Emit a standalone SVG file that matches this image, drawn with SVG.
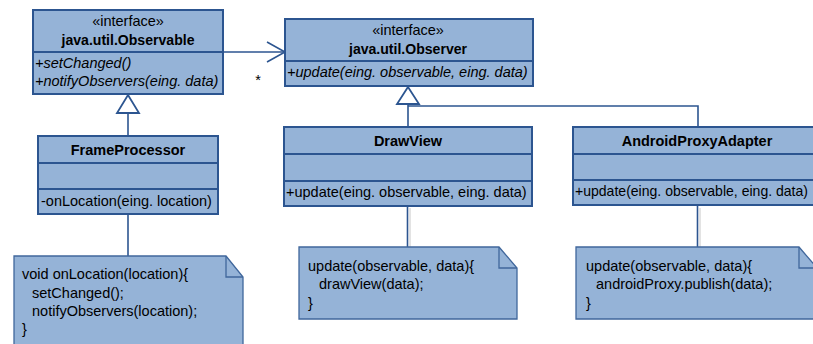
<svg xmlns="http://www.w3.org/2000/svg" width="813" height="344" viewBox="0 0 813 344">
  <style>
    .box { fill: #95b3d7; stroke: #2c5590; stroke-width: 2; }
    .div { stroke: #2c5590; stroke-width: 2; fill: none; }
    .note { fill: #95b3d7; stroke: #40679c; stroke-width: 1.3; }
    .fold { fill: none; stroke: #40679c; stroke-width: 1.3; }
    .edge { fill: none; stroke: #2c5590; stroke-width: 1.6; }
    .shadow { fill: none; stroke: #c8c8c8; stroke-width: 1; }
    .tri { fill: #ffffff; stroke: #2c5590; stroke-width: 1.8; }
    text { font-family: "Liberation Sans", Arial, sans-serif; font-size: 14.5px; fill: #000; }
    .c { text-anchor: middle; }
    .b { font-weight: bold; }
    .i { font-style: italic; }
  </style>

  <!-- connectors -->
  <g id="connectors">
    <!-- association Observable -> Observer -->
    <path class="edge" d="M223,52 H284"/>
    <path class="edge" d="M267,42 L285,52 L267,62"/>
    <text x="258" y="85" class="c">*</text>
    <!-- FrameProcessor realizes Observable -->
    <path class="edge" d="M128,113 V136"/>
    <polygon class="tri" points="128,95 139,113 117,113"/>
    <!-- DrawView / AndroidProxyAdapter realize Observer -->
    <path class="edge" d="M408,104 V127 M408,106 H698 V127"/>
    <polygon class="tri" points="408,87 419,104 397,104"/>
    <!-- note anchors -->
    <path class="edge" d="M128,214 V256"/>
    <path class="shadow" d="M410,208 V248"/>
    <path class="edge" d="M407.5,206 V247"/>
    <path class="shadow" d="M700,208 V248"/>
    <path class="edge" d="M697.5,205 V247"/>
  </g>

  <g id="observable">
    <rect class="box" x="33" y="10" width="190" height="84"/>
    <path class="div" d="M33,52 H223"/>
    <text x="128" y="26" class="c">«interface»</text>
    <text x="128" y="45" class="c b" textLength="133" lengthAdjust="spacingAndGlyphs">java.util.Observable</text>
    <text x="35" y="68" class="i">+setChanged()</text>
    <text x="35" y="86" class="i">+notifyObservers(eing. data)</text>
  </g>

  <g id="observer">
    <rect class="box" x="285" y="19" width="248" height="67"/>
    <path class="div" d="M285,61 H533"/>
    <text x="408" y="35" class="c">«interface»</text>
    <text x="408" y="54" class="c b" textLength="118" lengthAdjust="spacingAndGlyphs">java.util.Observer</text>
    <text x="287" y="77" class="i">+update(eing. observable, eing. data)</text>
  </g>

  <g id="frameprocessor">
    <rect class="box" x="38" y="136" width="180" height="78"/>
    <path class="div" d="M38,163 H218 M38,189 H218"/>
    <text x="128" y="155" class="c b">FrameProcessor</text>
    <text x="41" y="206">-onLocation(eing. location)</text>
  </g>

  <g id="drawview">
    <rect class="box" x="284" y="127" width="248" height="79"/>
    <path class="div" d="M284,154 H532 M284,181 H532"/>
    <text x="408" y="146" class="c b">DrawView</text>
    <text x="286" y="197">+update(eing. observable, eing. data)</text>
  </g>

  <g id="androidproxyadapter">
    <rect class="box" x="573" y="127" width="244" height="78"/>
    <path class="div" d="M573,154 H817 M573,180 H817"/>
    <text x="697" y="146" class="c b">AndroidProxyAdapter</text>
    <text x="575" y="196" textLength="233" lengthAdjust="spacingAndGlyphs">+update(eing. observable, eing. data)</text>
  </g>

  <g id="note-frameprocessor">
    <path class="note" d="M14,256 H226 L243,277 V350 H14 Z"/>
    <path class="fold" d="M226,256 V277 H243"/>
    <text x="22" y="279">void onLocation(location){</text>
    <text x="32" y="298">setChanged();</text>
    <text x="32" y="316">notifyObservers(location);</text>
    <text x="22" y="334">}</text>
  </g>

  <g id="note-drawview">
    <path class="note" d="M299,247 H499 L517,268 V319 H299 Z"/>
    <path class="fold" d="M499,247 V268 H517"/>
    <text x="308" y="271">update(observable, data){</text>
    <text x="319" y="289">drawView(data);</text>
    <text x="308" y="308">}</text>
  </g>

  <g id="note-androidproxyadapter">
    <path class="note" d="M576,247 H799 L817,268 V319 H576 Z"/>
    <path class="fold" d="M799,247 V268 H817"/>
    <text x="586" y="271">update(observable, data){</text>
    <text x="596" y="289">androidProxy.publish(data);</text>
    <text x="586" y="308">}</text>
  </g>
</svg>
